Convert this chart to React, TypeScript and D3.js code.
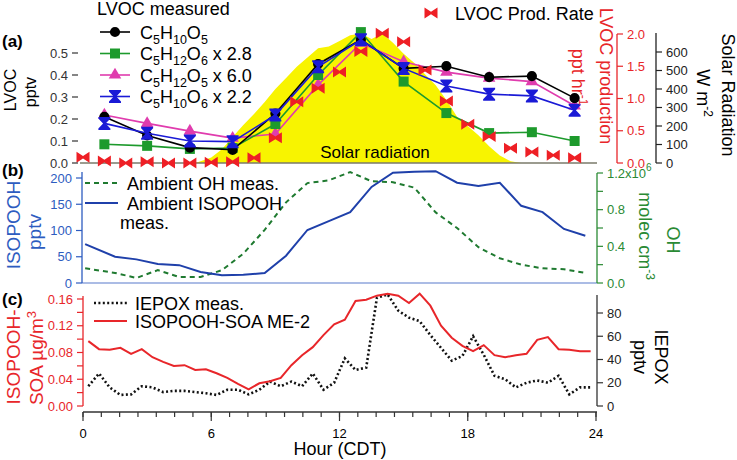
import React from "react";
import * as d3 from "d3";

const FONT = "'Liberation Sans', Arial, Helvetica, sans-serif";

// ---------- panel (a): LVOC measured, production rate, solar radiation ----------
const lvocHours = [1, 3, 5, 7, 9, 11, 13, 15, 17, 19, 21, 23];
const c5h10o5 = [0.21, 0.125, 0.07, 0.06, 0.225, 0.45, 0.56, 0.43, 0.44, 0.39, 0.395, 0.295];
const c5h12o6 = [0.085, 0.078, 0.064, 0.068, 0.177, 0.4, 0.595, 0.37, 0.227, 0.136, 0.14, 0.1];
const c5h12o5 = [0.218, 0.18, 0.145, 0.113, 0.132, 0.355, 0.545, 0.46, 0.413, 0.386, 0.37, 0.26];
const c5h10o6 = [0.18, 0.135, 0.1, 0.097, 0.218, 0.437, 0.56, 0.43, 0.35, 0.313, 0.305, 0.24];

const prodHours = [0, 1, 2, 3, 4, 5, 6, 7, 8, 9, 10, 11, 12, 13, 14, 15, 16, 17, 18, 19, 20, 21, 22, 23];
const prodRate = [0.09, 0.03, 0.0, 0.02, 0.0, 0.0, 0.01, 0.02, 0.08, 0.39, 0.95, 1.16, 1.41, 1.73, 2.01, 1.88, 1.44, 0.96, 0.6, 0.41, 0.23, 0.17, 0.12, 0.08];

const solarHours = [5.25, 5.5, 6, 6.5, 7, 7.5, 8, 8.5, 9, 9.5, 10, 10.5, 11, 11.5, 12, 12.5, 13, 13.5, 14, 14.5, 15, 15.5, 16, 16.5, 17, 17.5, 18, 18.5, 19, 19.5, 20, 20.5];
const solarRad = [0, 10, 30, 75, 140, 205, 265, 330, 400, 460, 520, 570, 620, 630, 660, 690, 700, 670, 700, 650, 590, 540, 480, 420, 340, 250, 200, 150, 90, 40, 10, 0];

// ---------- panel (b): ambient OH and ISOPOOH ----------
const bHours = [0.1, 1.5, 2.5, 3.5, 4.5, 5.5, 6.5, 7.5, 8.5, 9.5, 10.5, 11.5, 12.5, 13.5, 14.5, 15.5, 16.5, 17.5, 18.5, 19.5, 20.5, 21.5, 22.5, 23.5];
const isopooh = [74, 50, 45, 36, 34, 21, 15, 15.5, 19, 52, 101, 118, 135, 183, 210, 212, 213, 191, 185, 191, 147, 135, 103, 90];
const ohConc = [0.16, 0.11, 0.055, 0.14, 0.065, 0.065, 0.14, 0.32, 0.58, 0.88, 1.09, 1.12, 1.21, 1.11, 1.1, 1.04, 0.77, 0.6, 0.39, 0.27, 0.2, 0.16, 0.15, 0.11];

// ---------- panel (c): IEPOX and ISOPOOH-SOA ----------
const cHours = [0.25, 0.75, 1.25, 1.75, 2.25, 2.75, 3.25, 3.75, 4.25, 4.75, 5.25, 5.75, 6.25, 6.75, 7.25, 7.75, 8.25, 8.75, 9.25, 9.75, 10.25, 10.75, 11.25, 11.75, 12.25, 12.75, 13.25, 13.75, 14.25, 14.75, 15.25, 15.75, 16.25, 16.75, 17.25, 17.75, 18.25, 18.75, 19.25, 19.75, 20.25, 20.75, 21.25, 21.75, 22.25, 22.75, 23.25, 23.75];
const soa = [0.097, 0.085, 0.084, 0.087, 0.078, 0.085, 0.073, 0.066, 0.06, 0.061, 0.054, 0.055, 0.049, 0.042, 0.033, 0.025, 0.034, 0.037, 0.042, 0.061, 0.076, 0.088, 0.106, 0.122, 0.129, 0.157, 0.159, 0.165, 0.168, 0.165, 0.154, 0.168, 0.15, 0.12, 0.102, 0.09, 0.082, 0.091, 0.076, 0.073, 0.076, 0.078, 0.099, 0.103, 0.085, 0.084, 0.082, 0.082];
const iepox = [17, 28, 16, 9.5, 10, 17, 16, 12, 13, 13, 12, 11, 9.5, 14, 14, 10, 14, 21, 17, 21, 17, 28, 14, 20, 41, 31, 33, 93, 96, 82, 76, 73, 61, 50, 39, 43, 60, 44, 26, 23, 16, 20, 22, 20, 26, 10, 16, 16];

// ---------- ticks ----------
const xTicks = [0, 6, 12, 18, 24];
const lvocTicks = [0, 0.1, 0.2, 0.3, 0.4, 0.5];
const prodTicks = [0, 0.5, 1, 1.5, 2];
const solarTicks = [0, 100, 200, 300, 400, 500, 600];
const isoTicks = [0, 50, 100, 150, 200];
const ohTicks = [0, 0.4, 0.8, 1.2];
const ohMinor = [0.2, 0.6, 1.0];
const soaTicks = [0, 0.04, 0.08, 0.12, 0.16];
const soaMinor = [0.02, 0.06, 0.1, 0.14];
const iepoxTicks = [0, 20, 40, 60, 80];

// colours
const GREEN = "#1d9a2c";
const PINK = "#e03cae";
const BLUE = "#1a1ad6";
const RED = "#ee1f25";
const RED_TXT = "#e8262a";
const ISO_BLUE = "#1f40aa";
const ISO_TXT = "#2d5cc0";
const OH_GREEN = "#1f7a30";
const OH_TXT = "#2a8a34";

const x = d3.scaleLinear().domain([0, 24]).range([83, 596]);

const yLvoc = d3.scaleLinear().domain([0, 0.5]).range([163, 53]);
const yProd = d3.scaleLinear().domain([0, 2]).range([163, 34]);
const ySolar = d3.scaleLinear().domain([0, 600]).range([163, 52]);

const yIso = d3.scaleLinear().domain([0, 200]).range([283, 178]);
const yOH = d3.scaleLinear().domain([0, 1.2]).range([283, 173]);

const ySoa = d3.scaleLinear().domain([0, 0.16]).range([406, 299]);
const yIep = d3.scaleLinear().domain([0, 80]).range([406, 313]);

type Scale = d3.ScaleLinear<number, number>;

const lineOf = (hours: number[], vals: number[], ys: Scale) =>
  d3
    .line<number>()
    .x((_, i) => x(hours[i]))
    .y((d) => ys(d))(vals) || "";

const circlePath = d3.symbol().type(d3.symbolCircle).size(Math.PI * 26)() || "";
const squarePath = d3.symbol().type(d3.symbolSquare).size(100)() || "";
const trianglePath = d3.symbol().type(d3.symbolTriangle).size(68)() || "";
const hourglassPath = "M-6,-6.5L6,-6.5L6,-5L1.3,0L6,5L6,6.5L-6,6.5L-6,5L-1.3,0L-6,-5Z";
const bowtiePath = "M-6.5,-5.5L0,-1.3L6.5,-5.5L6.5,5.5L0,1.3L-6.5,5.5Z";

interface AxisProps {
  x0: number;
  scale: Scale;
  ticks: number[];
  minor?: number[];
  side: "left" | "right";
  color: string;
  textColor?: string;
  fmt: (v: number) => React.ReactNode;
  line?: boolean;
  top?: number;
  len?: number;
}

function VAxis({ x0, scale, ticks, minor = [], side, color, textColor, fmt, line = true, top, len = 6 }: AxisProps) {
  const dir = side === "left" ? -1 : 1;
  return (
    <g>
      {line && (
        <line x1={x0} x2={x0} y1={top ?? scale.range()[1]} y2={scale(0)} stroke={color} strokeWidth={1.3} />
      )}
      {ticks.map((t) => (
        <g key={t}>
          <line x1={x0} x2={x0 + dir * len} y1={scale(t)} y2={scale(t)} stroke={color} strokeWidth={1.2} />
          <text
            x={x0 + dir * (len + 4)}
            y={scale(t)}
            dy="0.36em"
            textAnchor={side === "left" ? "end" : "start"}
            fontSize={13}
            fill={textColor ?? color}
            fontFamily={FONT}
          >
            {fmt(t)}
          </text>
        </g>
      ))}
      {minor.map((t) => (
        <line key={"m" + t} x1={x0} x2={x0 + dir * len} y1={scale(t)} y2={scale(t)} stroke={color} strokeWidth={1.2} />
      ))}
    </g>
  );
}

function VLabel({ x: lx, y: ly, angle, size = 18, fill = "#000", children }: any) {
  return (
    <text
      transform={`translate(${lx},${ly}) rotate(${angle})`}
      textAnchor="middle"
      fontSize={size}
      fill={fill}
      fontFamily={FONT}
    >
      {children}
    </text>
  );
}

// chemical formula: [text, subscript?]
function Formula({ parts, x0, y0 }: { parts: [string, boolean][]; x0: number; y0: number }) {
  let wasSub = false;
  return (
    <text x={x0} y={y0} fontSize={18} fontFamily={FONT} fill="#000">
      {parts.map(([s, sub], i) => {
        const dy = sub && !wasSub ? 5 : !sub && wasSub ? -5 : 0;
        wasSub = sub;
        return (
          <tspan key={i} dy={dy} fontSize={sub ? 12.5 : 18}>
            {s}
          </tspan>
        );
      })}
    </text>
  );
}

const lvocSeries = [
  { vals: c5h12o5, color: PINK, marker: trianglePath, label: [["C", false], ["5", true], ["H", false], ["12", true], ["O", false], ["5", true], [" x 6.0", false]] as [string, boolean][], ly: 75 },
  { vals: c5h12o6, color: GREEN, marker: squarePath, label: [["C", false], ["5", true], ["H", false], ["12", true], ["O", false], ["6", true], [" x 2.8", false]] as [string, boolean][], ly: 53.5 },
  { vals: c5h10o5, color: "#000", marker: circlePath, label: [["C", false], ["5", true], ["H", false], ["10", true], ["O", false], ["5", true]] as [string, boolean][], ly: 32 },
  { vals: c5h10o6, color: BLUE, marker: hourglassPath, label: [["C", false], ["5", true], ["H", false], ["10", true], ["O", false], ["6", true], [" x 2.2", false]] as [string, boolean][], ly: 96.5 },
];

export default function App() {
  const solarArea =
    d3
      .area<number>()
      .x((_, i) => x(solarHours[i]))
      .y0(ySolar(0))
      .y1((d) => ySolar(d))(solarRad) || "";

  const minorX: number[] = [];
  for (let k = 0; k <= 28; k++) minorX.push((k * 6) / 7);

  return (
    <svg
      width={737}
      height={460}
      style={{ position: "absolute", left: 0, top: 0, background: "#fff" }}
      fontFamily={FONT}
    >
      {/* ================= panel (a) ================= */}
      <path d={solarArea} fill="#f8f400" />
      <text x={375} y={158} textAnchor="middle" fontSize={17}>
        Solar radiation
      </text>
      <line x1={80} x2={597} y1={163} y2={163} stroke="#7a7a6a" strokeWidth={1.5} />

      {lvocSeries.map((s, k) => (
        <g key={k}>
          <path d={lineOf(lvocHours, s.vals, yLvoc)} fill="none" stroke={s.color} strokeWidth={1.6} />
          {s.vals.map((v, i) => (
            <path key={i} d={s.marker} transform={`translate(${x(lvocHours[i])},${yLvoc(v)})`} fill={s.color} />
          ))}
        </g>
      ))}
      {prodRate.map((v, i) => (
        <path key={i} d={bowtiePath} transform={`translate(${x(prodHours[i])},${yProd(v)})`} fill={RED} />
      ))}

      <VAxis x0={78} scale={yLvoc} ticks={lvocTicks} side="left" color="#333" line={false} fmt={(v) => v.toFixed(1)} />
      <VAxis x0={617} scale={yProd} ticks={prodTicks} side="right" color={RED_TXT} fmt={(v) => v.toFixed(1)} />
      <VAxis x0={656} scale={ySolar} ticks={solarTicks} side="right" color="#222" top={33} fmt={(v) => String(v)} />

      <text x={2} y={47} fontSize={17} fontWeight="bold">(a)</text>
      <VLabel x={16} y={90} angle={-90} size={16}>LVOC</VLabel>
      <VLabel x={36} y={92} angle={-90} size={16}>pptv</VLabel>
      <VLabel x={600} y={76} angle={90} fill={RED_TXT}>LVOC production</VLabel>
      <VLabel x={572} y={77} angle={90} fill={RED_TXT}>
        ppt hr<tspan dy={-7} fontSize={12}>-1</tspan>
      </VLabel>
      <VLabel x={722} y={95} angle={90}>Solar Radiation</VLabel>
      <VLabel x={697} y={93} angle={90}>
        W m<tspan dy={-7} fontSize={12}>-2</tspan>
      </VLabel>

      {/* legend (a) */}
      <text x={97} y={15} fontSize={18}>LVOC measured</text>
      {lvocSeries.map((s, k) => (
        <g key={k}>
          <line x1={100} x2={130} y1={s.ly} y2={s.ly} stroke={s.color} strokeWidth={1.6} />
          <path d={s.marker} transform={`translate(115,${s.ly})`} fill={s.color} />
          <Formula parts={s.label} x0={140} y0={s.ly + 6.5} />
        </g>
      ))}
      <path d={bowtiePath} transform="translate(431,13)" fill={RED} />
      <text x={455} y={19.5} fontSize={18}>LVOC Prod. Rate</text>

      {/* ================= panel (b) ================= */}
      <line x1={82} x2={597} y1={283} y2={283} stroke="#8fa6dc" strokeWidth={1.5} />
      <path d={lineOf(bHours, ohConc, yOH)} fill="none" stroke={OH_GREEN} strokeWidth={2} strokeDasharray="5 4" />
      <path d={lineOf(bHours, isopooh, yIso)} fill="none" stroke={ISO_BLUE} strokeWidth={2} />

      <VAxis x0={82} scale={yIso} ticks={isoTicks} side="left" color={ISO_TXT} top={172} fmt={(v) => String(v)} />
      <VAxis
        x0={597}
        scale={yOH}
        ticks={ohTicks}
        minor={ohMinor}
        side="right"
        color={OH_TXT}
        fmt={(v) =>
          v === 1.2 ? (
            <>
              1.2x10<tspan dy={-7} fontSize={10}>6</tspan>
            </>
          ) : (
            v.toFixed(1)
          )
        }
      />

      <text x={2} y={176} fontSize={17} fontWeight="bold">(b)</text>
      <VLabel x={20} y={225} angle={-90} size={19} fill={ISO_TXT}>ISOPOOH</VLabel>
      <VLabel x={41} y={232} angle={-90} size={19} fill={ISO_TXT}>pptv</VLabel>
      <VLabel x={667} y={240} angle={90} fill={OH_TXT}>OH</VLabel>
      <VLabel x={639} y={236} angle={90} fill={OH_TXT}>
        molec cm<tspan dy={-7} fontSize={12}>-3</tspan>
      </VLabel>

      <line x1={85} x2={118} y1={183} y2={183} stroke={OH_GREEN} strokeWidth={2} strokeDasharray="5 4" />
      <text x={127} y={189.5} fontSize={18}>Ambient OH meas.</text>
      <line x1={85} x2={118} y1={203} y2={203} stroke={ISO_BLUE} strokeWidth={2} />
      <text x={127} y={209.5} fontSize={18}>Ambient ISOPOOH</text>
      <text x={120} y={229} fontSize={18}>meas.</text>

      {/* ================= panel (c) ================= */}
      <path d={lineOf(cHours, iepox, yIep)} fill="none" stroke="#111" strokeWidth={2.6} strokeDasharray="2 2.4" />
      <path d={lineOf(cHours, soa, ySoa)} fill="none" stroke={RED_TXT} strokeWidth={2} />

      <VAxis x0={83} scale={ySoa} ticks={soaTicks} minor={soaMinor} side="left" color={RED_TXT} top={296} fmt={(v) => v.toFixed(2)} />
      <VAxis x0={597} scale={yIep} ticks={iepoxTicks} side="right" color="#333" textColor="#222" top={295} fmt={(v) => String(v)} />

      {/* x axis */}
      <line x1={83} x2={597} y1={412} y2={412} stroke="#333" strokeWidth={1.3} />
      {minorX.map((h, i) => (
        <line key={i} x1={x(h)} x2={x(h)} y1={412} y2={417} stroke="#333" strokeWidth={1.2} />
      ))}
      {xTicks.map((h) => (
        <g key={h}>
          <line x1={x(h)} x2={x(h)} y1={412} y2={421} stroke="#333" strokeWidth={1.2} />
          <text x={x(h)} y={438} textAnchor="middle" fontSize={13}>
            {h}
          </text>
        </g>
      ))}
      <text x={340} y={455} textAnchor="middle" fontSize={18}>Hour (CDT)</text>

      <text x={2} y={305} fontSize={17} fontWeight="bold">(c)</text>
      <VLabel x={20} y={357} angle={-90} size={19} fill={RED_TXT}>ISOPOOH-</VLabel>
      <VLabel x={43} y={358} angle={-90} size={19} fill={RED_TXT}>
        SOA µg/m<tspan dy={-7} fontSize={13}>3</tspan>
      </VLabel>
      <VLabel x={655} y={357} angle={90}>IEPOX</VLabel>
      <VLabel x={634} y={357} angle={90}>pptv</VLabel>

      <line x1={94} x2={127} y1={303} y2={303} stroke="#111" strokeWidth={2.6} strokeDasharray="2 2.4" />
      <text x={135} y={309.5} fontSize={18}>IEPOX meas.</text>
      <line x1={94} x2={127} y1={321} y2={321} stroke={RED_TXT} strokeWidth={2} />
      <text x={135} y={327.5} fontSize={18}>ISOPOOH-SOA ME-2</text>
    </svg>
  );
}
